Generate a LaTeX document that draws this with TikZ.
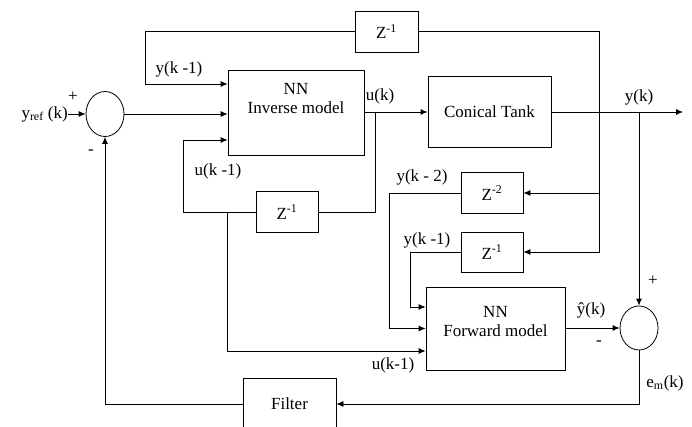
\documentclass[tikz,border=0pt]{standalone}
\usepackage{fontspec}
\setmainfont{Liberation Serif}
\usetikzlibrary{arrows.meta,shapes.geometric}
\tikzset{
  block/.style={
    draw,
    line width=0.8pt,
    fill=white,
    inner sep=0pt,
    align=center,
    font=\fontsize{17}{19}\selectfont
  },
  sumnode/.style={
    draw,
    ellipse,
    line width=0.8pt,
    minimum width=38pt,
    minimum height=45pt,
    inner sep=0pt
  },
  sig/.style={
    -{Latex[length=7pt,width=6pt]},
    line width=0.8pt
  },
  wire/.style={line width=0.8pt},
  lbl/.style={inner sep=0pt, font=\fontsize{17}{19}\selectfont}
}

\begin{document}
\begin{tikzpicture}[x=1pt,y=-1pt]
\useasboundingbox (0,0) rectangle (692,427);
\clip (0,0) rectangle (692,427);
% blocks
\node[sumnode] (sumin) at (105,114) {};
\node[block, minimum width=136pt, minimum height=85pt,
  label={[lbl, align=center, yshift=13.5pt]center:NN\\Inverse model}] (inverse) at (296,112.5) {};
\node[block, minimum width=123pt, minimum height=71pt] (tank) at (489.5,112) {Conical Tank};
\node[block, minimum width=63pt, minimum height=41pt] (zinv) at (386.5,31.5) {Z\textsuperscript{-1}};
\node[block, minimum width=62pt, minimum height=41pt] (zu) at (287,212) {Z\textsuperscript{-1}};
\node[block, minimum width=62pt, minimum height=41pt] (ztwo) at (492,193) {Z\textsuperscript{-2}};
\node[block, minimum width=62pt, minimum height=40pt] (zone) at (492,252) {Z\textsuperscript{-1}};
\node[block, minimum width=139pt, minimum height=83pt,
  label={[lbl, align=center, yshift=6.5pt]center:NN\\Forward model}] (forward) at (495.5,328.5) {};
\node[sumnode, minimum height=44pt] (sumout) at (639,328) {};
\node[block, minimum width=93pt, minimum height=52pt] (filter) at (289.5,404) {Filter};
\node[lbl, anchor=east] (yref) at (68,114) {y\textsubscript{ref} (k)};
% taps
\coordinate (utap) at (375,112);
\coordinate (ytap) at (599,112);
\coordinate (ytapb) at (639,112);
\coordinate (ubranch) at (227,212);
% signals
\draw[sig] (yref.east) -- (sumin.west);
\draw[sig] (sumin.east) -- (sumin -| inverse.west);
\draw[sig] (inverse.east |- tank) -- (tank.west);
\draw[sig] (tank.east) -- (683,112);
\draw[wire] (ytap) |- (zinv.east);
\draw[sig] (zinv.west) -| (145,84) -- (inverse.west |- 0,84);
\draw[wire] (utap) |- (zu.east);
\draw[sig] (zu.west) -| ([xshift=-44pt,yshift=-27.5pt]inverse.west) -- ([yshift=-27.5pt]inverse.west);
\draw[sig] (ubranch) |- ([yshift=-22.5pt]forward.west);
\draw[sig] (ytap) |- (ztwo.east);
\draw[sig] (ytap) |- (zone.east);
\draw[sig] (ztwo.west) -| ([xshift=-36pt]forward.west) -- (forward.west);
\draw[sig] (zone.west) -| ([xshift=-15pt,yshift=21.5pt]forward.west) -- ([yshift=21.5pt]forward.west);
\draw[sig] (forward.east |- sumout) -- (sumout.west);
\draw[sig] (ytapb) -- (sumout.north);
\draw[sig] (sumout.south) |- (filter.east);
\draw[sig] (filter.west) -| (sumin.south);
% labels
\node[lbl] (lyk1) at (179,69) {y(k -1)};
\node[lbl] (luk1) at (218,171) {u(k -1)};
\node[lbl] (luk) at (380,96) {u(k)};
\node[lbl] (lyk) at (639,97) {y(k)};
\node[lbl] (lyk2) at (422,177) {y(k - 2)};
\node[lbl] (lyk1b) at (427,240) {y(k -1)};
\node[lbl] (luk1b) at (393,365) {u(k-1)};
\node[lbl] (lyhat) at (591,310) {\^{y}(k)};
\node[lbl] (lem) at (665,383) {e\textsubscript{m}(k)};
\node[lbl] (pin) at (73,97) {+};
\node[lbl] (min) at (91,152) {-};
\node[lbl] (pout) at (653,281) {+};
\node[lbl] (mout) at (599,343) {-};
\end{tikzpicture}
\end{document}
